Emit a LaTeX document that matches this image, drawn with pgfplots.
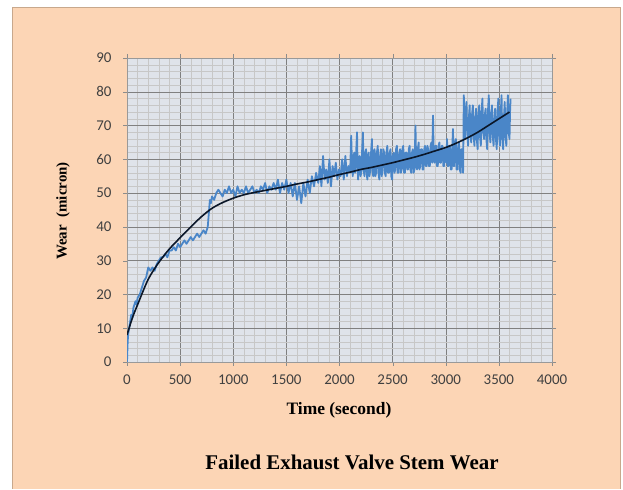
\documentclass[border=0pt]{standalone}
\usepackage{fontspec}
\setmainfont{Liberation Serif}
\newfontfamily\carlito{Carlito}
\usepackage{pgfplots}
\pgfplotsset{compat=1.18}
\definecolor{peach}{HTML}{FCD5B5}
\definecolor{plotbg}{HTML}{DFE3EA}
\definecolor{blueline}{HTML}{4A86C8}
\definecolor{trend}{HTML}{0A1628}
\definecolor{framec}{HTML}{C8A88C}
\begin{document}
\begin{tikzpicture}[x=1bp,y=1bp]
\fill[white] (0,0) rectangle (623,489);
\fill[peach] (12,0) rectangle (621,482);
\draw[framec,line width=1bp] (12.5,0) -- (12.5,481.5) -- (620.5,481.5) -- (620.5,0);
\begin{axis}[
  at={(127bp,127bp)}, anchor=south west,
  scale only axis, width=425bp, height=304bp,
  xmin=0, xmax=4000, ymin=0, ymax=90,
  xtick distance=500, ytick distance=10,
  minor tick num=4,
  grid=both,
  major grid style={draw=black!50, line width=0.5pt},
  minor grid style={draw=black!22, line width=0.35pt},
  axis background/.style={fill=plotbg},
  axis line style={draw=black!40, line width=0.5pt},
  tick align=outside,
  major tick length=4bp,
  minor tick length=0pt,
  tick style={draw=black!45},
  /pgf/number format/assume math mode=true,
  /pgf/number format/set thousands separator={},
  tick label style={font=\carlito\fontsize{15}{15}\selectfont, text=black!75},
  xticklabel style={yshift=-5bp},
  yticklabel style={xshift=-8bp},
  clip=true,
]
\addplot[blueline, line width=1.8pt, line join=round] coordinates {
(0,0) (5,5) (10,8) (20,10) (30,12) (40,14) (50,13) (60,16) (70,17) (80,18) (90,17) (100,19)
(120,20) (140,22) (160,24) (180,25) (200,28) (220,27) (240,28) (260,27) (280,29) (300,30)
(320,31) (340,31) (360,32) (380,31) (400,33) (420,33) (440,34) (460,33) (480,35) (500,34)
(520,35) (540,36) (560,35) (580,36) (600,37) (620,36) (640,37) (660,38) (680,37) (700,38)
(720,39) (740,38) (760,40) (770,44) (780,48) (790,47) (800,49) (820,48) (840,50) (860,51)
(880,50) (900,49) (920,51) (940,50) (960,52) (980,50) (1000,51) (1020,49) (1040,52) (1060,50)
(1080,51) (1100,50) (1120,52) (1140,50) (1160,51) (1180,52) (1200,50) (1220,51) (1240,50)
(1260,52) (1280,51) (1300,53) (1320,50) (1340,52) (1360,51) (1380,53) (1400,51) (1420,54)
(1440,50) (1460,53) (1480,51) (1500,54) (1520,50) (1540,53) (1560,49) (1580,53) (1600,48)
(1620,52) (1640,47) (1660,53) (1680,49) (1700,54) (1720,50) (1740,55) (1760,52) (1780,56)
(1800,53) (1815,58) (1830,52) (1845,61) (1860,54) (1875,57) (1890,53) (1905,60) (1920,52)
(1935,58) (1950,55) (1965,59) (1980,54) (1995,57) (2010,55) (2025,60) (2040,54) (2055,61)
(2070,55) (2085,58) (2100,56) (2110,67) (2118,58) (2125,55) (2132,61) (2140,62) (2146,56)
(2150,57) (2158,63) (2165,68) (2170,58) (2175,54) (2182,60) (2190,61) (2197,55) (2205,56)
(2212,62) (2220,68) (2227,57) (2235,55) (2242,62) (2250,63) (2256,56) (2262,54) (2268,61)
(2275,62) (2282,55) (2290,57) (2297,62) (2305,66) (2311,56) (2318,55) (2324,62) (2330,63)
(2337,55) (2345,56) (2352,62) (2360,64) (2367,56) (2375,54) (2382,61) (2390,63) (2397,55)
(2405,57) (2412,63) (2420,62) (2427,56) (2435,55) (2442,62) (2450,64) (2457,56) (2465,56)
(2472,62) (2480,63) (2487,55) (2495,54) (2502,61) (2510,62) (2517,56) (2525,57) (2532,63)
(2540,64) (2547,56) (2555,56) (2562,62) (2570,63) (2577,56) (2585,57) (2592,63) (2600,64)
(2607,56) (2615,56) (2622,62) (2630,62) (2637,57) (2645,57) (2652,63) (2660,64) (2667,57)
(2675,56) (2682,62) (2690,63) (2697,56) (2705,57) (2715,70) (2722,58) (2730,57) (2737,63)
(2745,65) (2752,57) (2760,58) (2767,63) (2775,63) (2782,57) (2790,57) (2797,63) (2805,64)
(2812,58) (2820,58) (2827,64) (2835,63) (2842,58) (2850,58) (2857,64) (2865,65) (2872,59)
(2880,73) (2887,60) (2895,59) (2902,64) (2910,64) (2917,58) (2925,58) (2932,64) (2940,65)
(2947,59) (2955,59) (2962,64) (2970,64) (2977,58) (2985,58) (2992,63) (3000,63) (3006,59)
(3012,66) (3018,58) (3025,58) (3032,64) (3040,64) (3047,57) (3055,57) (3062,64) (3068,69)
(3074,58) (3080,58) (3087,65) (3095,66) (3102,57) (3110,57) (3117,64) (3125,65) (3132,57)
(3140,56) (3147,63) (3155,63) (3163,56) (3170,79) (3175,70) (3180,66) (3187,74) (3195,77)
(3202,68) (3210,64) (3217,72) (3225,76) (3232,67) (3240,65) (3247,73) (3255,76) (3262,67)
(3270,64) (3277,72) (3285,75) (3292,66) (3300,63) (3307,73) (3315,76) (3322,67) (3330,64)
(3337,74) (3345,78) (3352,68) (3360,66) (3367,73) (3375,75) (3382,66) (3390,63) (3397,74)
(3405,79) (3412,68) (3420,65) (3427,73) (3435,76) (3442,67) (3450,64) (3457,72) (3465,75)
(3472,66) (3480,63) (3487,74) (3495,78) (3502,67) (3510,64) (3517,73) (3525,79) (3532,66)
(3540,63) (3547,72) (3555,77) (3562,67) (3570,64) (3577,73) (3585,79) (3592,68) (3600,66)
(3605,74) (3610,78)
};
\addplot[trend, line width=1.6pt, smooth] coordinates {
(0,8) (50,13) (100,17) (200,24.5) (300,29.5) (400,33.5) (500,36.8) (600,40) (700,43) (800,45.5)
(900,47.2) (1000,48.5) (1100,49.5) (1200,50.2) (1300,50.8) (1400,51.4) (1500,52) (1600,52.7)
(1700,53.3) (1800,54) (1900,54.7) (2000,55.5) (2100,56.2) (2200,57) (2300,57.6) (2400,58.3)
(2500,59) (2600,59.8) (2700,60.6) (2800,61.5) (2900,62.5) (3000,63.5) (3100,64.8) (3200,66.3)
(3300,68) (3400,70) (3500,72) (3600,74)
};
\end{axis}
\node[font=\bfseries\fontsize{15}{15}\selectfont, rotate=90] at (63,278) {Wear\ \ (micron)};
\node[font=\bfseries\fontsize{17.5}{17.5}\selectfont] at (339,79) {Time (second)};
\node[font=\bfseries\fontsize{21}{21}\selectfont] at (352,27) {Failed Exhaust Valve Stem Wear};
\end{tikzpicture}
\end{document}
